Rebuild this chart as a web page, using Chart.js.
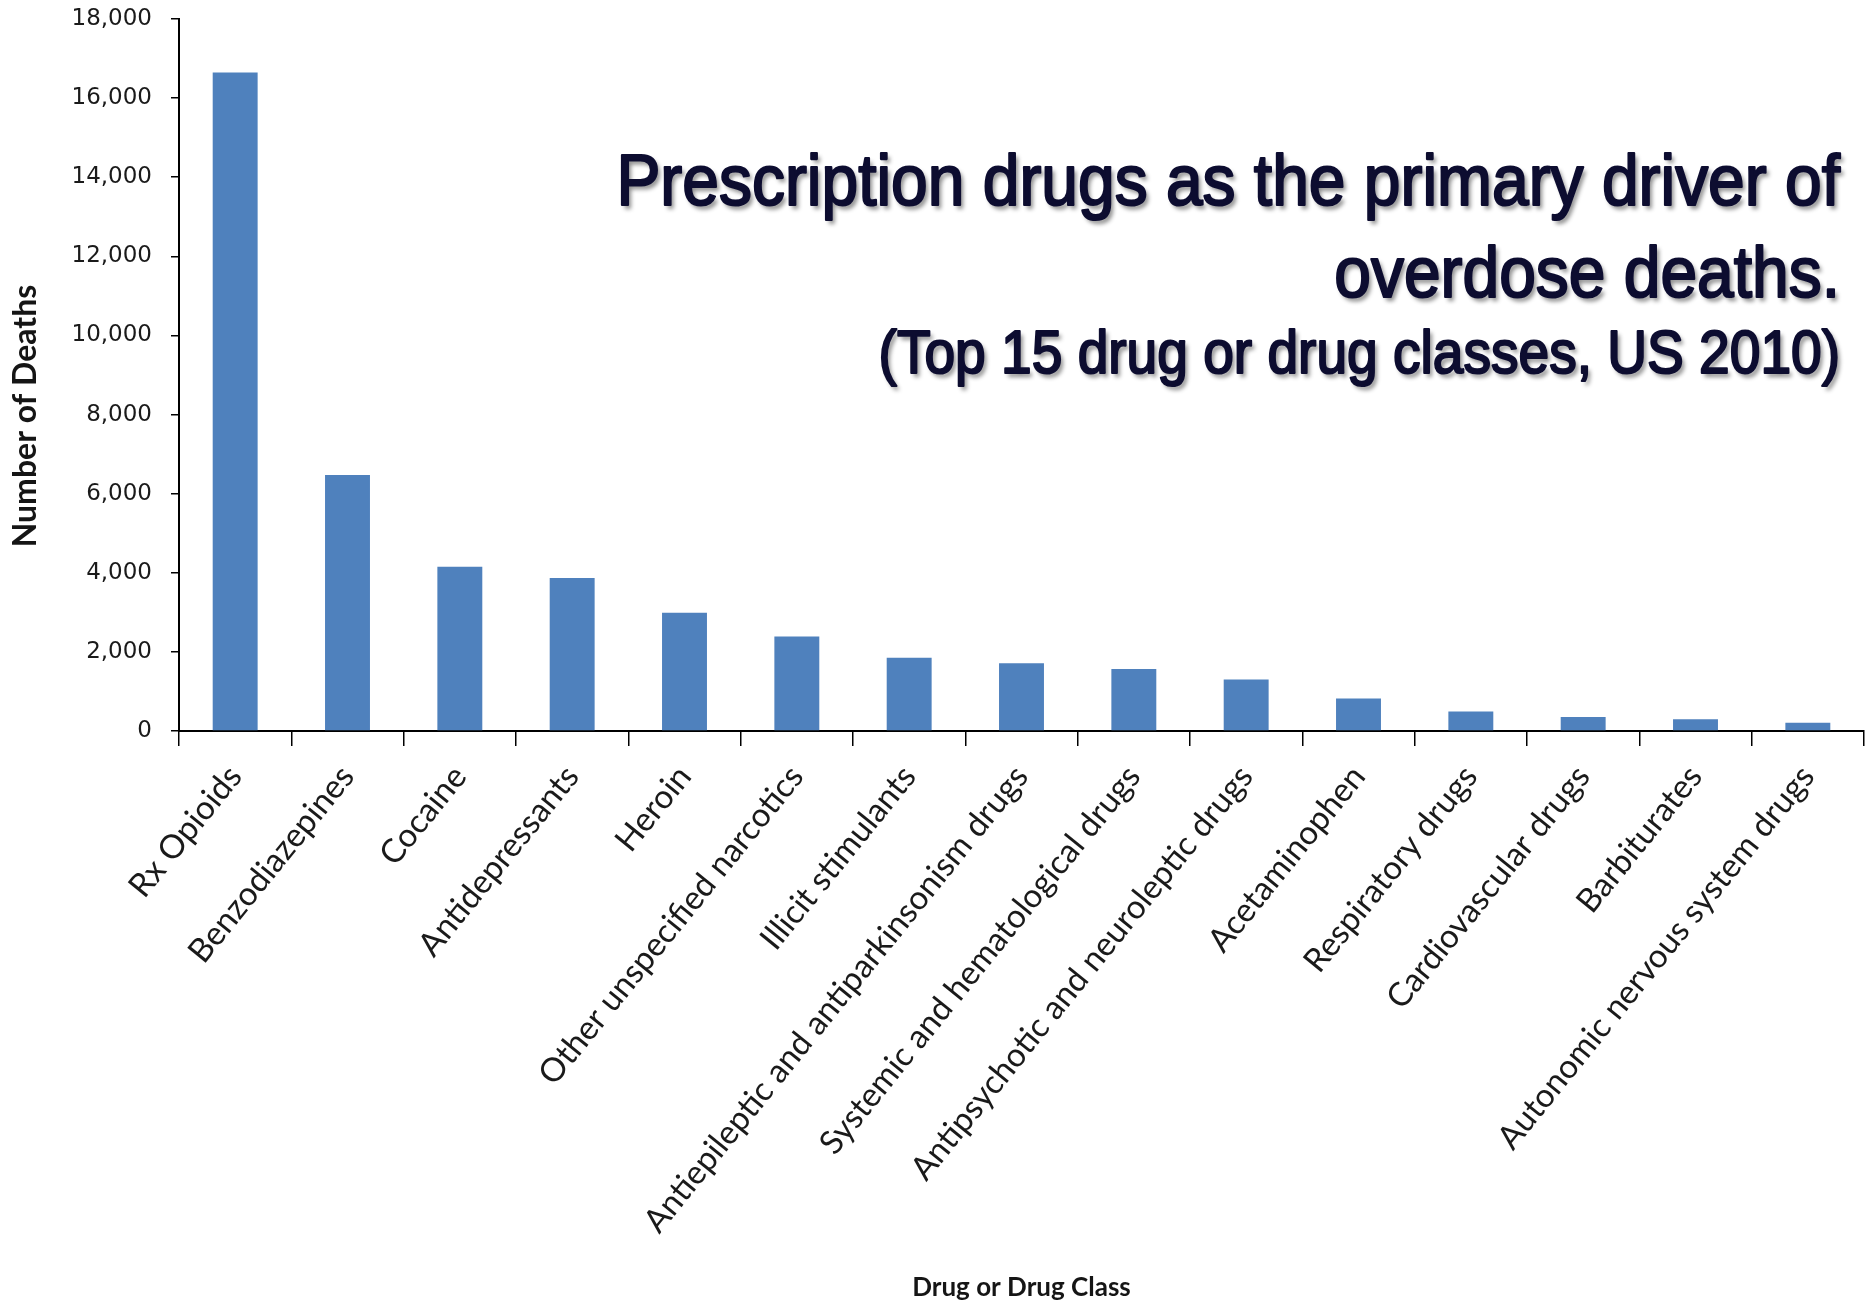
<!DOCTYPE html>
<html>
<head>
<meta charset="utf-8">
<script src="https://cdn.jsdelivr.net/npm/chart.js@4.4.1/dist/chart.umd.min.js"></script>
<style>
  html, body { margin: 0; padding: 0; background: #fff; }
  canvas { display: block; }
</style>
</head>
<body>
<canvas id="deathsChart" width="1868" height="1306"></canvas>
<script>
// Top 15 drug or drug classes, US 2010
const categories = [
  'Rx Opioids', 'Benzodiazepines', 'Cocaine', 'Antidepressants', 'Heroin',
  'Other unspecified narcotics', 'Illicit stimulants',
  'Antiepileptic and antiparkinsonism drugs', 'Systemic and hematological drugs',
  'Antipsychotic and neuroleptic drugs', 'Acetaminophen', 'Respiratory drugs',
  'Cardiovascular drugs', 'Barbiturates', 'Autonomic nervous system drugs'
];
const deaths = [16650, 6470, 4150, 3870, 2990, 2390, 1850, 1710, 1570, 1300, 820, 490, 355, 295, 210];

const yMin = 0;
const yMax = 18000;
const yStep = 2000;

const titleLines = [
  'Prescription drugs as the primary driver of',
  'overdose deaths.',
  '(Top 15 drug or drug classes, US 2010)'
];
const xTitle = 'Drug or Drug Class';
const yTitle = 'Number of Deaths';

// headline in the top right plus the rotated y title
const textPlugin = {
  id: 'slideText',
  afterDraw(chart) {
    const ctx = chart.ctx;
    const lines = [
      { text: titleLines[0], size: 73, base: 205 },
      { text: titleLines[1], size: 73, base: 297 },
      { text: titleLines[2], size: 61, base: 373 }
    ];
    const right = 1840;
    const squeeze = 0.903;
    ctx.save();
    lines.forEach(l => {
      ctx.save();
      ctx.translate(right, l.base);
      ctx.scale(squeeze, 1);
      ctx.font = `${l.size}px "Liberation Sans", Arial, sans-serif`;
      ctx.textAlign = 'right';
      ctx.textBaseline = 'alphabetic';
      ctx.shadowColor = 'rgba(0,0,0,0.45)';
      ctx.shadowBlur = 4;
      ctx.shadowOffsetX = 3;
      ctx.shadowOffsetY = 4;
      ctx.fillStyle = '#0d0d30';
      ctx.strokeStyle = '#0d0d30';
      ctx.lineWidth = 2.2;
      ctx.lineJoin = 'round';
      ctx.fillText(l.text, 0, 0);
      ctx.shadowColor = 'transparent';
      ctx.strokeText(l.text, 0, 0);
      ctx.restore();
    });

    ctx.translate(26, 416);
    ctx.rotate(-Math.PI / 2);
    ctx.font = 'bold 32px Lato, sans-serif';
    ctx.textAlign = 'center';
    ctx.textBaseline = 'middle';
    ctx.fillStyle = '#151515';
    ctx.fillText(yTitle, 0, 0);
    ctx.restore();
  }
};

const ctx = document.getElementById('deathsChart').getContext('2d');
new Chart(ctx, {
  type: 'bar',
  data: {
    labels: categories,
    datasets: [{
      label: 'Deaths',
      data: deaths,
      backgroundColor: '#4F81BD',
      borderWidth: 0,
      barPercentage: 0.4,
      categoryPercentage: 1.0
    }]
  },
  options: {
    responsive: false,
    animation: false,
    devicePixelRatio: 1,
    layout: { padding: { top: 19, right: 4, left: 0, bottom: 0 } },
    plugins: {
      legend: { display: false },
      tooltip: { enabled: false }
    },
    scales: {
      x: {
        afterFit(scale) {
          scale.height = 575;
          scale.paddingTop = 0;
        },
        grid: {
          offset: true,
          drawOnChartArea: false,
          drawTicks: true,
          tickLength: 15,
          color: '#000',
          lineWidth: 1.5
        },
        border: { display: true, color: '#000', width: 2 },
        ticks: {
          autoSkip: false,
          minRotation: 51,
          maxRotation: 51,
          padding: 12,
          color: '#1a1a1a',
          font: { family: 'Lato, sans-serif', size: 33 }
        },
        title: {
          display: true,
          text: xTitle,
          color: '#151515',
          font: { family: 'Lato, sans-serif', size: 26, weight: 'bold' },
          padding: { top: 0, bottom: 3 }
        }
      },
      y: {
        min: yMin,
        max: yMax,
        afterFit(scale) {
          scale.width = 179;
          scale.paddingTop = 0;
          scale.paddingBottom = 0;
        },
        grid: {
          drawOnChartArea: false,
          drawTicks: true,
          tickLength: 8,
          color: '#000',
          lineWidth: 1.5
        },
        border: { display: true, color: '#000', width: 2 },
        ticks: {
          stepSize: yStep,
          padding: 19,
          color: '#1a1a1a',
          font: { family: '"DejaVu Sans", sans-serif', size: 23 },
          callback: v => v.toLocaleString('en-US')
        }
      }
    }
  },
  plugins: [textPlugin]
});
</script>
</body>
</html>
